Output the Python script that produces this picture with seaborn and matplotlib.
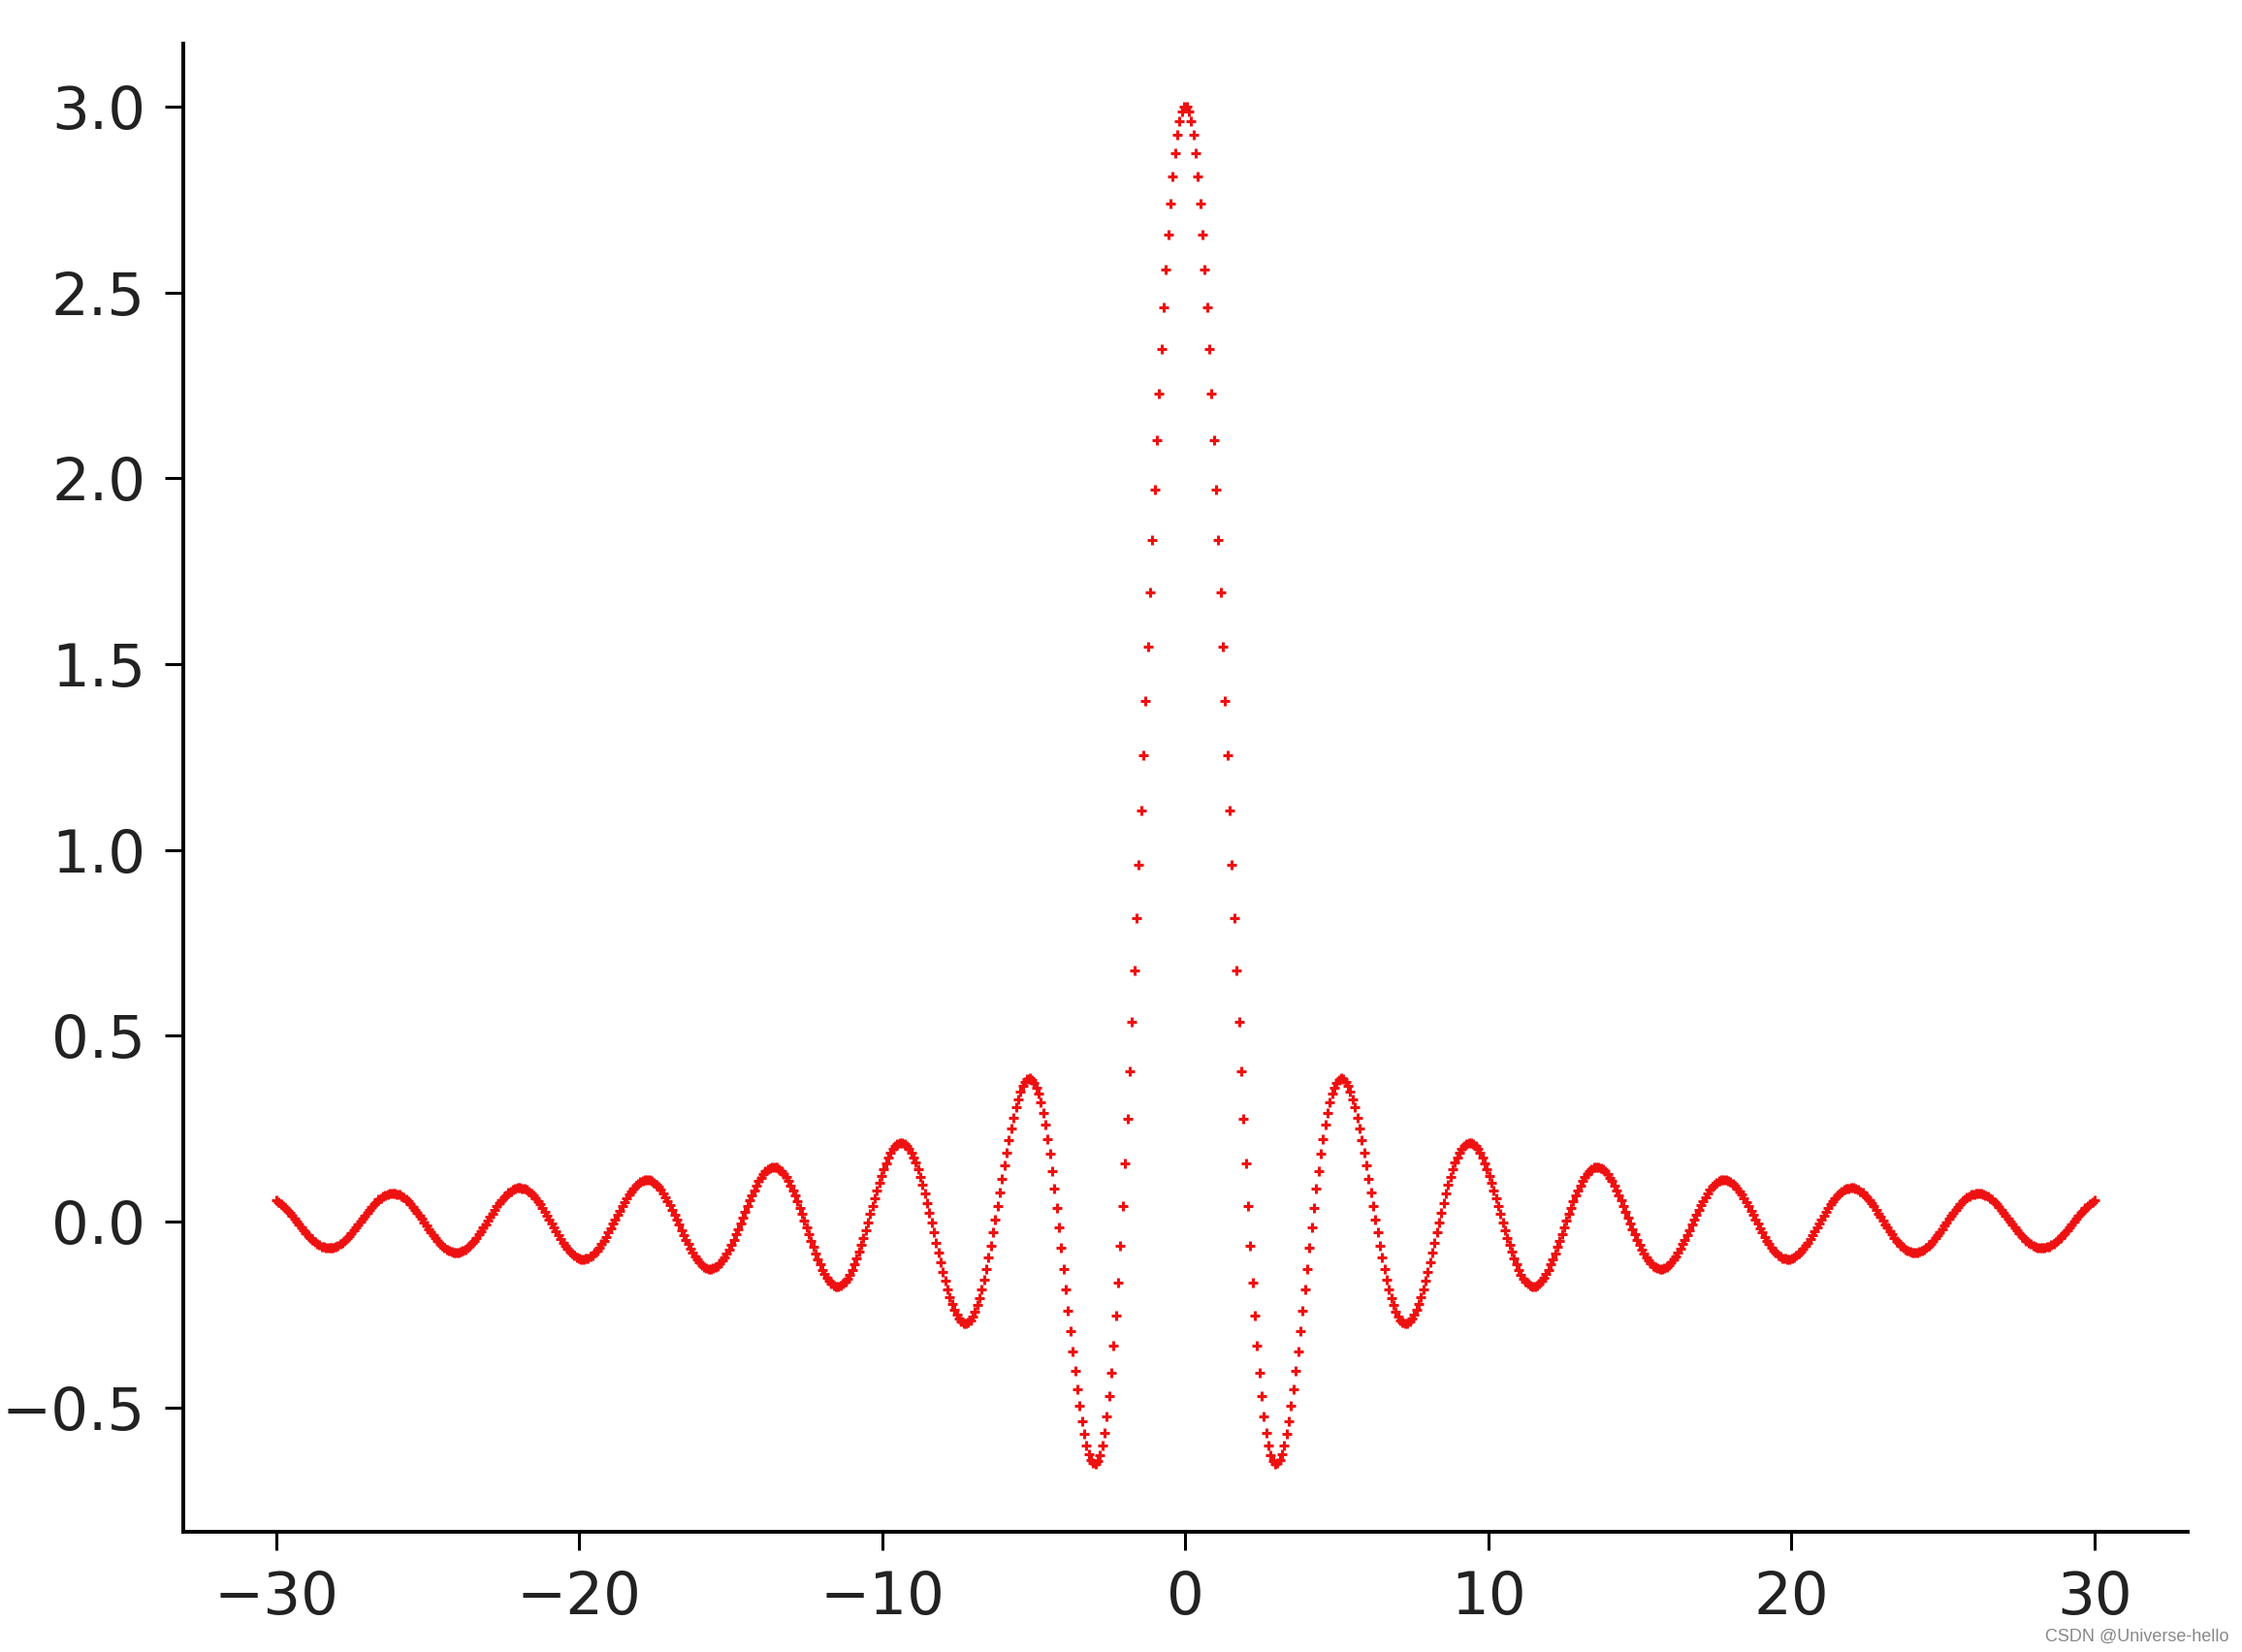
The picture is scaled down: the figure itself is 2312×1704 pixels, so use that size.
import numpy as np
import pandas as pd
import matplotlib
matplotlib.use('Agg')
import matplotlib.pyplot as plt
import seaborn as sns

x_start = -30
x_stop = 30
n_points = 800
amp = 3.0
freq = 1.5

xs = np.linspace(x_start, x_stop, n_points)
ys = amp * np.sinc(freq * xs / np.pi)

xticks = [-30, -20, -10, 0, 10, 20, 30]
yticks = [-0.5, 0.0, 0.5, 1.0, 1.5, 2.0, 2.5, 3.0]

df = pd.DataFrame({'x': xs, 'y': ys})

sns.set_style('ticks')
plt.rcParams['font.family'] = ['DejaVu Sans']

fig = plt.figure(figsize=(23.12, 17.04), dpi=100)
ax = fig.add_axes([0.0817, 0.0728, 0.894, 0.901])

sns.scatterplot(data=df, x='x', y='y', marker='+', color='#ee1111', s=60,
                linewidth=2.2, ax=ax, legend=False)

ax.set_xticks(xticks)
ax.set_yticks(yticks)
ax.set_xlim(-33.07, 33.07)
ax.set_ylim(-0.834, 3.17)
ax.set_xlabel('')
ax.set_ylabel('')
sns.despine(ax=ax)
for side in ['left', 'bottom']:
    ax.spines[side].set_linewidth(2.8)
    ax.spines[side].set_color('black')
ax.tick_params(axis='both', length=14, width=2.2, pad=14, labelsize=44,
               colors='black', labelcolor='#222222')

fig.text(0.994, 0.004, 'CSDN @Universe-hello', ha='right', va='bottom',
         fontsize=13, color='#888888', family=['Liberation Sans', 'DejaVu Sans'])

fig.savefig('out.png', dpi=100)
